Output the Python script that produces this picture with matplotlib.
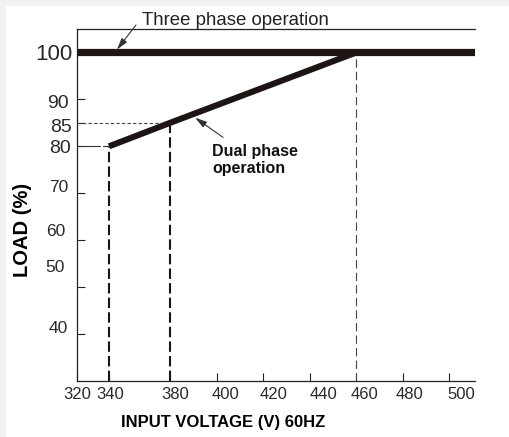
import numpy as np
import matplotlib
matplotlib.use("Agg")
import matplotlib.pyplot as plt
from matplotlib.transforms import ScaledTranslation
from matplotlib.patches import Rectangle

# data
voltage_ticks = [320, 340, 380, 400, 420, 440, 460, 480, 500]
load_ticks = [40, 50, 60, 70, 80, 85, 90, 100]
dual_voltage = [340, 380, 460]
dual_load = [80, 85, 100]
three_phase_load = 100

# the drawing squeezes the axis below 380 V, so the x scale is piecewise
knot_v = [320, 340, 380, 511]
knot_px = [0, 32, 93, 398]

def fwd(v):
    return np.interp(v, knot_v, knot_px)

def inv(p):
    return np.interp(p, knot_px, knot_v)

plt.rcParams["font.family"] = ["Liberation Sans", "DejaVu Sans"]
ink = "#1e1414"

fig = plt.figure(figsize=(5.09, 4.37), dpi=100)
fig.patches.append(Rectangle((0, 432/437), 1, 5/437, transform=fig.transFigure,
                             color="#f1f1f1", zorder=0))
fig.patches.append(Rectangle((0, 0), 5/509, 1, transform=fig.transFigure,
                             color="#f1f1f1", zorder=0))
ax = fig.add_axes([77/509, 56/437, 398/509, 352/437])
ax.set_xscale("function", functions=(fwd, inv))
ax.set_xlim(320, 511)
ax.set_ylim(30, 105)

for s in ["left", "bottom", "top"]:
    ax.spines[s].set_linewidth(0.9)
    ax.spines[s].set_color("#222222")
ax.spines["right"].set_visible(False)

ax.tick_params(axis="both", direction="in", length=5.8, width=0.8, color="#222222",
               labelcolor="#2a2a2a", labelsize=12)
ax.tick_params(axis="y", pad=2.9)
ax.tick_params(axis="x", pad=4.5)

# lines
ax.axhline(three_phase_load, color=ink, lw=5.2, solid_capstyle="butt", zorder=4)
ax.plot(dual_voltage, dual_load, color=ink, lw=4.4, solid_capstyle="butt", zorder=4)

# dashed guides
ax.vlines(dual_voltage[:2], 30, dual_load[:2], color=ink, lw=1.5,
          linestyles=(0, (5, 2)), zorder=3)
ax.vlines(dual_voltage[2], 30, dual_load[2], color="#444444", lw=0.8,
          linestyles=(0, (7.5, 3.8)), zorder=3)
ax.hlines(dual_load[1], 320, dual_voltage[1], color="#444444", lw=0.8,
          linestyles=(0, (3, 2)), zorder=3)
ax.hlines(dual_load[0], 320, dual_voltage[0], color="#333333", lw=0.8,
          linestyles=(0, (21, 2)), zorder=3)

ax.set_xticks(voltage_ticks)
ax.set_xticklabels([str(v) for v in voltage_ticks])
ax.set_yticks(load_ticks)
ax.set_yticklabels([str(v) for v in load_ticks])

# the labels in the picture sit a little off their ticks
x_shift = [0, 1, 5, 9, 10, 14, 8, 7, 12]
for lab, dx in zip(ax.get_xticklabels(), x_shift):
    lab.set_transform(lab.get_transform() + ScaledTranslation(dx/100, 0, fig.dpi_scale_trans))

y_shift = [(-5, 7), (-8, 21), (-8, 10), (-5, 7), (-2, 0), (-1, -3), (-4, -2), (0, 0)]
y_size = [12.5, 12.5, 12.5, 12.5, 14, 14, 14, 16]
for lab, (dx, dy), fs in zip(ax.get_yticklabels(), y_shift, y_size):
    lab.set_fontsize(fs)
    lab.set_transform(lab.get_transform() + ScaledTranslation(dx/100, dy/100, fig.dpi_scale_trans))

ax.set_xlabel("INPUT VOLTAGE (V) 60HZ", fontsize=12, fontweight="bold", va="center")
ax.xaxis.set_label_coords(0.367, -0.1165)
ax.set_ylabel("LOAD (%)", fontsize=14.5, fontweight="bold", va="center", ha="center")
ax.yaxis.set_label_coords(-0.1357, 0.429)

# annotations
arrow = dict(arrowstyle="-|>,head_length=0.7,head_width=0.2", color="#333333",
             lw=0.8, shrinkA=0, shrinkB=0, mutation_scale=10)
ax.annotate("", xy=(345.2, 100.6), xytext=(357.7, 105.85), arrowprops=arrow,
            annotation_clip=False, zorder=6)
ax.text(361.5, 105.85, "Three phase operation", fontsize=13.4, color="#222222",
        ha="left", va="baseline", clip_on=False)
ax.annotate("", xy=(390.8, 86.1), xytext=(402.8, 81.9), arrowprops=arrow, zorder=6)
ax.text(398.1, 80.4, "Dual phase\noperation", fontsize=11.5, fontweight="bold",
        color="#111111", ha="left", va="top", linespacing=1.1)

fig.savefig("out.png", dpi=100)
